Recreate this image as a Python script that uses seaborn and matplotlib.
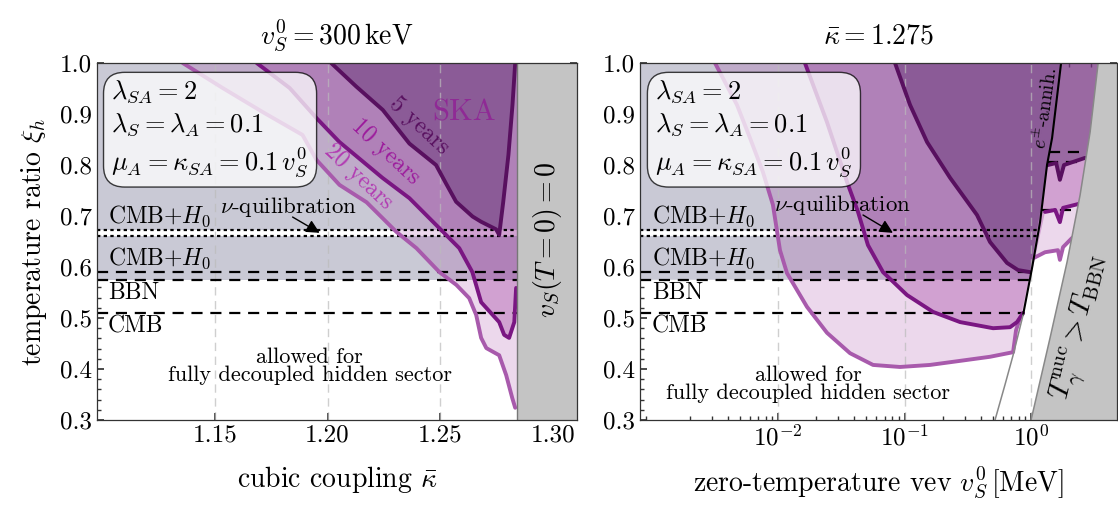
import numpy as np
import matplotlib
matplotlib.use('Agg')
import matplotlib.pyplot as plt
from matplotlib.ticker import FormatStrFormatter, MultipleLocator
import seaborn as sns

# ---------------- data: left panel (v_S^0 = 300 keV), x = kappa bar ----------------
kap_5 = [1.2016, 1.2127, 1.2245, 1.2363, 1.2481, 1.2525, 1.2570, 1.2643, 1.2680,
         1.2747, 1.2761, 1.2779, 1.2802, 1.2820, 1.2832]
xi_5 = [1.0, 0.954, 0.908, 0.842, 0.800, 0.764, 0.728, 0.699, 0.689,
        0.674, 0.663, 0.728, 0.820, 0.918, 1.0]
kap_10 = [1.1686, 1.1832, 1.1951, 1.2053, 1.2243, 1.2363, 1.2496, 1.2584, 1.2642,
          1.2681, 1.2761, 1.2783, 1.2805, 1.2828, 1.2836]
xi_10 = [1.0, 0.951, 0.892, 0.845, 0.775, 0.735, 0.676, 0.637, 0.590,
         0.531, 0.492, 0.467, 0.461, 0.492, 0.559]
kap_20 = [1.1358, 1.1535, 1.1712, 1.1889, 1.1951, 1.2053, 1.2173, 1.2305, 1.2394,
          1.2496, 1.2571, 1.2628, 1.2659, 1.2681, 1.2704, 1.2761, 1.2792, 1.2819, 1.2832]
xi_20 = [1.0, 0.951, 0.904, 0.859, 0.810, 0.761, 0.727, 0.669, 0.637,
         0.590, 0.565, 0.539, 0.506, 0.461, 0.441, 0.427, 0.388, 0.343, 0.324]
kappa_max = 1.284          # v_S(T=0) = 0 beyond this

# ---------------- data: right panel (kappa bar = 1.275), x = v_S^0 [MeV] ----------------
v_5 = [0.0841, 0.1105, 0.1507, 0.229, 0.374, 0.474, 0.646, 0.789, 0.982]
xv_5 = [1.0, 0.918, 0.845, 0.775, 0.702, 0.649, 0.608, 0.594, 0.590]
v_5r = [1.36, 1.58, 1.69, 1.82, 2.67]
xv_5r = [0.800, 0.804, 0.771, 0.800, 0.814]
v_10 = [0.01633, 0.0244, 0.0351, 0.0429, 0.0514, 0.0676, 0.1047, 0.168, 0.275,
        0.501, 0.682, 0.775, 0.865]
xv_10 = [1.0, 0.884, 0.767, 0.708, 0.643, 0.590, 0.545, 0.512, 0.492,
         0.480, 0.482, 0.492, 0.510]
v_10r = [1.29, 1.55, 1.69, 1.79, 2.40]
xv_10r = [0.708, 0.712, 0.688, 0.716, 0.724]
v_20 = [0.00318, 0.00474, 0.00601, 0.00761, 0.00912, 0.01037, 0.01178, 0.01694, 0.0244,
        0.0371, 0.0564, 0.0921, 0.159, 0.275, 0.474, 0.721, 0.761, 0.819]
xv_20 = [1.0, 0.918, 0.853, 0.786, 0.722, 0.633, 0.588, 0.522, 0.471,
         0.431, 0.408, 0.404, 0.408, 0.416, 0.424, 0.433, 0.476, 0.500]
v_20r = [1.056, 1.29, 1.63, 1.69, 1.79, 2.11, 2.40]
xv_20r = [0.618, 0.629, 0.633, 0.614, 0.639, 0.657, 0.660]
# e+- annihilation line
ee_x = [0.865, 1.018, 1.178, 1.337, 1.466, 1.727]
ee_y = [0.506, 0.598, 0.688, 0.800, 0.853, 1.0]
# T_gamma^nuc > T_BBN boundary and its thin shifted copy
tn_x = [1.0, 1.413, 1.926, 2.44, 2.93, 3.39]
tn_y = [0.30, 0.461, 0.610, 0.741, 0.865, 1.0]
tn2_x = [0.519, 0.622, 0.721, 0.865]
tn2_y = [0.30, 0.369, 0.427, 0.506]

# ---------------- observational bounds ----------------
dotted_y = [0.672, 0.661]            # CMB+H0 (nu-quilibration)
dashed_y = [0.590, 0.575, 0.510]     # CMB+H0, BBN, CMB
dashed_shift_y = [0.825, 0.805, 0.711]
dashed_shift_end = [2.58, 2.60, 2.22]
band_lo = [0.575, 0.672]
band_hi = [0.661, 1.0]

left_xlim = (1.0978, 1.3106)
right_xlim = (10 ** -3.09, 10 ** 0.68)
ylim = (0.3, 1.0)

C_BAND = '#c9c9d5'
C_F20, C_F10, C_F5 = '#962896', '#8c148c', '#6e3c7d'
C_L20, C_L10, C_L5 = '#a85aac', '#7a1682', '#58105f'
C_GRAY = '#c4c4c4'

sns.set_theme(style='ticks')
plt.rcParams.update({
    'font.family': 'serif', 'font.serif': ['cmr10'], 'mathtext.fontset': 'cm',
    'axes.unicode_minus': False, 'axes.formatter.use_mathtext': True,
    'text.color': 'black', 'axes.labelcolor': 'black',
    'xtick.direction': 'in', 'ytick.direction': 'in',
    'xtick.top': True, 'ytick.right': True,
    'xtick.major.size': 5, 'ytick.major.size': 5,
    'xtick.minor.size': 3, 'ytick.minor.size': 3,
    'axes.edgecolor': '#333333', 'axes.linewidth': 0.9,
    'xtick.color': '#333333', 'ytick.color': '#333333',
    'xtick.labelcolor': 'black', 'ytick.labelcolor': 'black',
    'xtick.labelsize': 18, 'ytick.labelsize': 18,
})

fig = plt.figure(figsize=(11.18, 5.17), dpi=100)
axL = fig.add_axes([0.0868, 0.1876, 0.4293, 0.6905])
axR = fig.add_axes([0.5725, 0.1876, 0.4267, 0.6905])
axR.set_xscale('log')


def curve(ax, x, y, color, lw=2.8, z=4):
    sns.lineplot(x=x, y=y, ax=ax, sort=False, estimator=None, color=color,
                 lw=lw, zorder=z, legend=False)


def ee_at(y):
    return 10 ** np.interp(y, ee_y, np.log10(ee_x))


def arrow(ax, head, tail):
    ax.annotate('', xy=head, xytext=tail, zorder=7,
                arrowprops=dict(arrowstyle='-|>', mutation_scale=20, color='black',
                                lw=1, shrinkA=0, shrinkB=0))


box_txt = ('$\\lambda_{SA} = 2$\n$\\lambda_S = \\lambda_A = 0.1$\n'
           '$\\mu_A = \\kappa_{SA} = 0.1\\,v_S^0$')
allowed_txt = 'allowed for\nfully decoupled hidden sector'

# ================= left panel =================
ax = axL
for lo, hi in zip(band_lo, band_hi):
    ax.fill_between([left_xlim[0], kappa_max], lo, hi, color=C_BAND, lw=0, zorder=1)
ax.fill(kap_20 + [1.32, 1.32], xi_20 + [xi_20[-1], 1.0], color=C_F20, alpha=0.18, lw=0, zorder=2)
ax.fill(kap_10 + [1.32, 1.32], xi_10 + [xi_10[-1], 1.0], color=C_F10, alpha=0.28, lw=0, zorder=2)
ax.fill(kap_5, xi_5, color=C_F5, alpha=0.55, lw=0, zorder=2)
for xg in [1.15, 1.20, 1.25]:
    ax.axvline(xg, color='#bbbbbb', ls=(0, (6, 4)), lw=1, alpha=0.7, zorder=2.5)
ax.hlines(dotted_y, left_xlim[0], kappa_max, colors='black', linestyles=(0, (1.5, 1.5)), lw=1.6, zorder=3)
ax.hlines(dashed_y, left_xlim[0], kappa_max, colors='black', linestyles=(0, (5, 3.5)), lw=1.6, zorder=3)
curve(ax, kap_20, xi_20, C_L20)
curve(ax, kap_10, xi_10, C_L10)
curve(ax, kap_5, xi_5, C_L5)
ax.axvspan(kappa_max, 1.33, color=C_GRAY, lw=0, zorder=5)
ax.axvline(kappa_max, color='#777777', lw=1, zorder=5)

ax.text(1.2606, 0.902, 'SKA', color='#8f2a95', fontsize=22, ha='center', va='center', zorder=7)
ax.text(1.2405, 0.877, '5 years', color=C_L5, fontsize=17, rotation=-43, ha='center', va='center', zorder=7)
ax.text(1.2255, 0.826, '10 years', color='#9c1a9c', fontsize=17, rotation=-43, ha='center', va='center', zorder=7)
ax.text(1.2135, 0.777, '20 years', color='#b23ab2', fontsize=17, rotation=-43, ha='center', va='center', zorder=7)
ax.text(1.2973, 0.653, '$v_S(T=0) = 0$', fontsize=20, rotation=90, ha='center', va='center', zorder=7)
ax.text(1.192, 0.405, allowed_txt, fontsize=16, ha='center', va='center', linespacing=0.9, zorder=7)
ax.text(1.1825, 0.718, '$\\nu$-quilibration', fontsize=16.5, ha='center', va='center', zorder=7)
arrow(ax, (1.1965, 0.667), (1.1845, 0.698))
ax.set_xlim(left_xlim)
ax.set_xticks([1.15, 1.20, 1.25, 1.30])
ax.xaxis.set_major_formatter(FormatStrFormatter('%.2f'))
ax.set_xlabel('cubic coupling $\\bar{\\kappa}$', fontsize=20, labelpad=12)
ax.set_ylabel('temperature ratio $\\xi_h$', fontsize=20, labelpad=8)
ax.set_title('$v_S^0 = 300\\,\\mathrm{keV}$', fontsize=20, pad=14)

# ================= right panel =================
ax = axR
for lo, hi in zip(band_lo, band_hi):
    inner = [(x, y) for x, y in zip(ee_x, ee_y) if lo < y < hi]
    px = [right_xlim[0], ee_at(lo)] + [p[0] for p in inner] + [ee_at(hi), right_xlim[0]]
    py = [lo, lo] + [p[1] for p in inner] + [hi, hi]
    ax.fill(px, py, color=C_BAND, lw=0, zorder=1)
ax.fill(v_20 + v_20r + [6, 6], xv_20 + xv_20r + [xv_20r[-1], 1.0], color=C_F20, alpha=0.18, lw=0, zorder=2)
ax.fill(v_10 + v_10r + [6, 6], xv_10 + xv_10r + [xv_10r[-1], 1.0], color=C_F10, alpha=0.28, lw=0, zorder=2)
ax.fill(v_5 + v_5r + [6, 6], xv_5 + xv_5r + [xv_5r[-1], 1.0], color=C_F5, alpha=0.55, lw=0, zorder=2)
for xg in [1e-2, 1e-1, 1e0]:
    ax.axvline(xg, color='#bbbbbb', ls=(0, (6, 4)), lw=1, alpha=0.7, zorder=2.5)
for y in dotted_y:
    ax.hlines(y, right_xlim[0], ee_at(y), colors='black', linestyles=(0, (1.5, 1.5)), lw=1.6, zorder=3)
for y in dashed_y:
    ax.hlines(y, right_xlim[0], ee_at(y), colors='black', linestyles=(0, (5, 3.5)), lw=1.6, zorder=3)
for y, xe in zip(dashed_shift_y, dashed_shift_end):
    ax.hlines(y, ee_at(y), xe, colors='black', linestyles=(0, (5, 3.5)), lw=1.6, zorder=3)
curve(ax, v_20, xv_20, C_L20)
curve(ax, v_20r, xv_20r, C_L20)
curve(ax, v_10, xv_10, C_L10)
curve(ax, v_10r, xv_10r, C_L10)
curve(ax, v_5, xv_5, C_L5)
curve(ax, v_5r, xv_5r, C_L5)
curve(ax, ee_x, ee_y, 'black', lw=1.5, z=4.5)
curve(ax, tn2_x, tn2_y, '#888888', lw=1.1, z=4.5)
ax.fill(tn_x + [6, 6], tn_y + [1.0, 0.3], color=C_GRAY, lw=0, zorder=5)
curve(ax, tn_x, tn_y, '#888888', lw=1.1, z=5.1)

ax.text(1.29, 0.912, '$e^{\\pm}$-annih.', fontsize=14, rotation=82, ha='center', va='center', zorder=7)
ax.text(2.53, 0.480, '$T_\\gamma^{\\mathrm{nuc}} > T_{\\mathrm{BBN}}$', fontsize=21, rotation=76,
        ha='center', va='center', zorder=7)
ax.text(0.01726, 0.371, allowed_txt, fontsize=16, ha='center', va='center', linespacing=0.9, zorder=7)
ax.text(0.0321, 0.722, '$\\nu$-quilibration', fontsize=16.5, ha='center', va='center', zorder=7)
arrow(ax, (0.081, 0.667), (0.047, 0.702))
ax.set_xlim(right_xlim)
ax.set_xticks([1e-2, 1e-1, 1e0])
ax.set_xlabel('zero-temperature vev $v_S^0\\,[\\mathrm{MeV}]$', fontsize=20, labelpad=10)
ax.set_title('$\\bar{\\kappa} = 1.275$', fontsize=20, pad=14)

# ================= shared styling =================
for ax, xfrac in [(axL, 0.023), (axR, 0.025)]:
    ax.set_ylim(ylim)
    ax.yaxis.set_major_locator(MultipleLocator(0.1))
    ax.yaxis.set_minor_locator(MultipleLocator(0.02))
    ax.yaxis.set_major_formatter(FormatStrFormatter('%.1f'))
    ax.tick_params(which='both', top=True, right=True)
    tr = ax.get_yaxis_transform()
    ax.text(xfrac, 0.675, 'CMB+$H_0$', transform=tr, fontsize=17, va='bottom', zorder=7)
    ax.text(xfrac, 0.593, 'CMB+$H_0$', transform=tr, fontsize=17, va='bottom', zorder=7)
    ax.text(xfrac, 0.571, 'BBN', transform=tr, fontsize=17, va='top', zorder=7)
    ax.text(xfrac, 0.506, 'CMB', transform=tr, fontsize=17, va='top', zorder=7)
    ax.text(xfrac + 0.007, 0.958, box_txt, transform=ax.transAxes, fontsize=19,
            va='top', ha='left', linespacing=1.3, zorder=6,
            bbox=dict(boxstyle='round,pad=0.3,rounding_size=0.8', facecolor='white',
                      alpha=0.75, edgecolor='black', lw=1))
    for s in ax.spines.values():
        s.set_zorder(8)

fig.savefig('out.png', dpi=100)
